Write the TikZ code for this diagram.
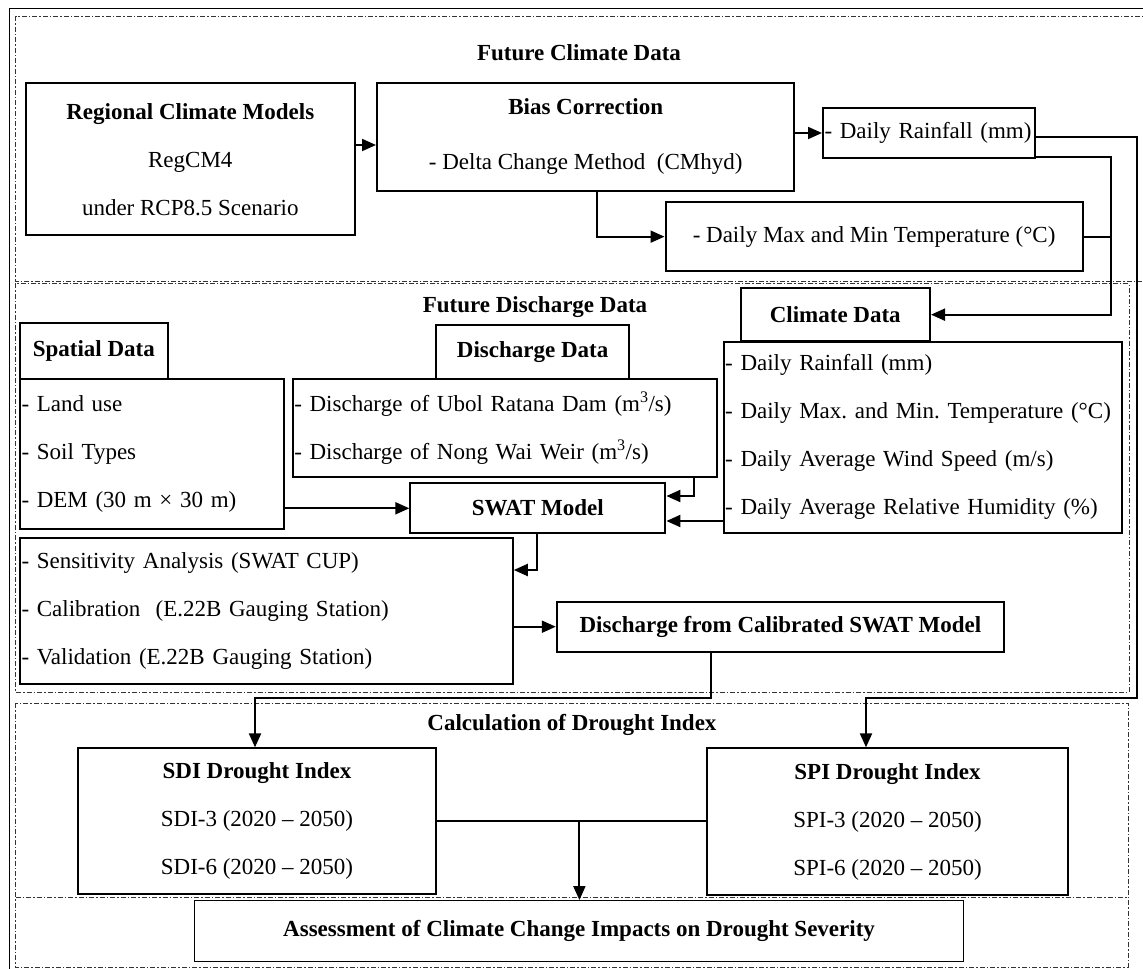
\documentclass[tikz,border=0pt]{standalone}
\usepackage{fontspec}
\setmainfont{Liberation Serif}
\usetikzlibrary{arrows.meta,calc}
\newcommand{\fz}{\fontsize{23}{48}\selectfont\frenchspacing}
\newcommand{\oneline}[1]{\mbox{#1}}
\begin{document}
\begin{tikzpicture}[x=1pt,y=-1pt,
  box/.style={draw, line width=2pt, inner sep=0pt, font=\fz, align=center},
  lbox/.style={box, align=left, inner xsep=1.5pt, inner ysep=0pt},
  thinbox/.style={box, line width=1.3pt},
  title/.style={font=\fz\bfseries, inner sep=0pt},
  frame/.style={draw=black!80, line width=0.9pt, dash pattern=on 5pt off 2pt on 1.5pt off 2pt},
  conn/.style={line width=2pt},
  arr/.style={conn, -{Triangle[length=14pt,width=12pt]}}]
\useasboundingbox (0,0) rectangle (1143,969);
\clip (0,0) rectangle (1143,969);

% outer and dashed frames
\draw[line width=0.9pt] (9,8) rectangle (1160,990);
\draw[frame] (1150,16.7) -- (15.7,16.7) -- (15.7,281) -- (1150,281);
\draw[frame] (15.7,283.3) rectangle (1129,692.3);
\draw[frame] (15.7,703) rectangle (1128,967.3);
\draw[frame] (15.7,897.3) -- (1128,897.3);

% section titles
\node[title] (t1) at (579,53) {Future Climate Data};
\node[title] (t2) at (535,306.7) {Future Discharge Data};
\node[title] (t3) at (572,725) {Calculation of Drought Index};

% top section
\node[box, minimum width=329.4pt, minimum height=151.7pt] (rcm) at (190.3,159.2)
  {\textbf{Regional Climate Models}\\RegCM4\\under RCP8.5 Scenario};
\node[box, minimum width=417.4pt, minimum height=107.2pt] (bias) at (585.7,136.9)
  {\textbf{Bias Correction}\\[7pt]- Delta Change Method\ \ (CMhyd)};
\node[lbox, text width=209pt, minimum height=50.6pt] (dr) at (929,133)
  {\oneline{- Daily Rainfall (mm)}};
\node[box, minimum width=417.2pt, minimum height=68.7pt] (temp) at (874.1,236.65)
  {- Daily Max and Min Temperature (°C)};

% middle section
\node[box, minimum width=147.6pt, minimum height=55.7pt] (sh) at (93.8,351.15)
  {\textbf{Spatial Data}};
\node[lbox, text width=260.6pt, minimum height=150pt] (sl) at (151.8,454)
  {\oneline{- Land use}\\\oneline{- Soil Types}\\\oneline{- DEM (30 m × 30 m)}};
\node[box, minimum width=192.7pt, minimum height=54pt] (dh) at (532.65,352)
  {\textbf{Discharge Data}};
\node[lbox, text width=421.2pt, minimum height=97.7pt] (dl) at (504.9,427.85)
  {\oneline{- Discharge of Ubol Ratana Dam (m\textsuperscript{3}/s)}\\\oneline{- Discharge of Nong Wai Weir (m\textsuperscript{3}/s)}};
\node[box, minimum width=189.5pt, minimum height=52.7pt] (ch) at (835.25,314.65)
  {\textbf{Climate Data}};
\node[lbox, text width=395.3pt, minimum height=191pt] (cl) at (922.85,437.2)
  {\oneline{- Daily Rainfall (mm)}\\\oneline{- Daily Max. and Min. Temperature (°C)}\\\oneline{- Daily Average Wind Speed (m/s)}\\\oneline{- Daily Average Relative\ Humidity (\%)}};
\node[box, minimum width=255.1pt, minimum height=50.3pt] (swat) at (537.85,507.85)
  {\textbf{SWAT Model}};
\node[lbox, text width=489.8pt, minimum height=145.7pt] (cal) at (266.4,611.15)
  {\oneline{- Sensitivity Analysis (SWAT CUP)}\\\oneline{- Calibration\ \ (E.22B Gauging Station)}\\\oneline{- Validation (E.22B Gauging Station)}};
\node[box, minimum width=447.2pt, minimum height=50pt] (dfc) at (780.4,626.7)
  {\textbf{Discharge from Calibrated SWAT Model}};

% bottom section
\node[thinbox, minimum width=358pt, minimum height=146pt] (sdi) at (257,821)
  {\textbf{SDI Drought Index}\\SDI-3 (2020 -- 2050)\\SDI-6 (2020 -- 2050)};
\node[thinbox, minimum width=361pt, minimum height=147pt] (spi) at (887.5,821.5)
  {\textbf{SPI Drought Index}\\SPI-3 (2020 -- 2050)\\SPI-6 (2020 -- 2050)};
\node[thinbox, minimum width=769pt, minimum height=61pt] (as) at (579.1,931.2)
  {\textbf{Assessment of Climate Change Impacts on Drought Severity}};

% helper coordinates
\coordinate (c1) at (0,145);
\coordinate (c3) at (597,0);
\coordinate (c4a) at (1137,137.3);
\coordinate (c4b) at (866,697.7);
\coordinate (c5) at (1110.7,157);
\coordinate (c6) at (693.8,496);
\coordinate (c7) at (0,521);
\coordinate (c8) at (0,508.3);
\coordinate (c9) at (536.6,570);
\coordinate (c10) at (711,697.7);
\coordinate (c10b) at (255,697.7);
\coordinate (c11) at (579.4,0);

% connectors
\draw[arr] (rcm.east |- c1) -- (bias.west |- c1);
\draw[arr] (bias.east |- dr.west) -- (dr.west);
\draw[arr] (bias.south -| c3) |- (temp.west);
\draw[arr] (dr.east |- c4a) -- (c4a) -- (c4b -| c4a) -- (c4b) -- (spi.north -| c4b);
\draw[arr] (dr.south east |- c5) -- (c5) |- (ch.east);
\draw[conn] (temp.east) -- (temp.east -| c5);
\draw[arr] (dl.south -| c6) |- (swat.east |- c6);
\draw[arr] (cl.west |- c7) -- (swat.east |- c7);
\draw[arr] (sl.east |- c8) -- (swat.west |- c8);
\draw[arr] (swat.south -| c9) |- (cal.east |- c9);
\draw[arr] (cal.east |- dfc.west) -- (dfc.west);
\draw[arr] (dfc.south -| c10) -- (c10) -- (c10b) -- (sdi.north -| c10b);
\draw[conn] (sdi.east) -- (spi.west |- sdi.east);
\draw[arr] (sdi.east -| c11) -- (as.north -| c11);
\end{tikzpicture}
\end{document}
